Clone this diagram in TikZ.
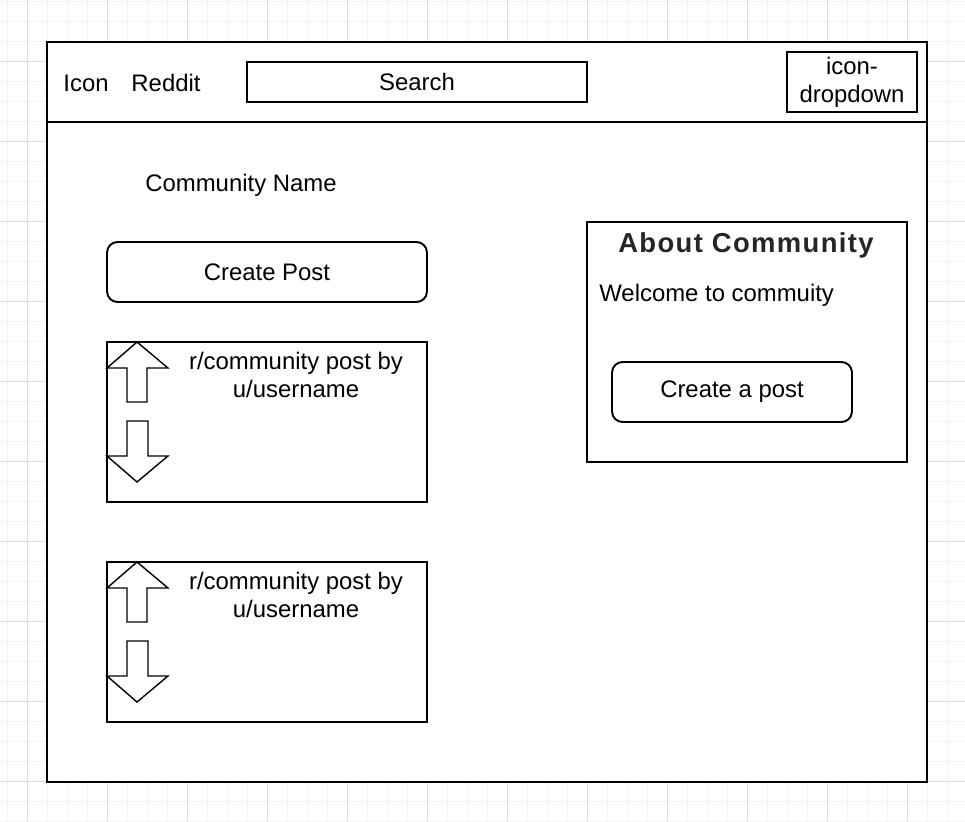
\documentclass[tikz,border=0pt]{standalone}
\usepackage{fontspec}
\setmainfont{Liberation Sans}
\usepackage{tikz}

\tikzset{
  gridfine/.style={color=black!5, line width=0.5pt},
  gridmajor/.style={color=black!13, line width=0.5pt},
  frame/.style={draw, line width=1.1pt, fill=white, inner sep=0pt},
  button/.style={frame, rounded corners=6pt},
  label/.style={inner sep=0pt, align=center},
  updown/.style={draw, line width=0.8pt, fill=white, line join=miter}
}

\begin{document}
\begin{tikzpicture}[x=0.02cm, y=-0.02cm, font=\fontsize{13.6pt}{15.9pt}\selectfont]
        \useasboundingbox (0,0) rectangle (965,822);

        % background grid
        \foreach \gx in {7,27,...,965} \draw[gridfine] (\gx,0) -- (\gx,822);
        \foreach \gy in {1,21,...,822} \draw[gridfine] (0,\gy) -- (965,\gy);
        \foreach \gx in {27,107,...,965} \draw[gridmajor] (\gx,0) -- (\gx,822);
        \foreach \gy in {61,141,...,822} \draw[gridmajor] (0,\gy) -- (965,\gy);

        % page and header
        \node[frame, minimum width=17.6cm, minimum height=14.8cm] (page) at (487,412) {};
        \coordinate (hl) at (47,122);
        \coordinate (hr) at (927,122);
        \draw[line width=1.1pt] (hl) -- (hr);

        \node[label, anchor=base] (icon) at (86,91) {Icon};
        \node[label, anchor=base] (reddit) at (166,91) {Reddit};
        \node[frame, minimum width=6.8cm, minimum height=0.8cm] (search) at (417,82) {Search};
        \node[frame, label, minimum width=2.6cm, minimum height=1.2cm] (dropdown) at (852,82) {icon-\\dropdown};

        % left column
        \node[label, anchor=base] (cname) at (241,191.5) {Community Name};
        \node[button, minimum width=6.4cm, minimum height=1.2cm] (newpost) at (267,272) {Create Post};

        \node[frame, minimum width=6.4cm, minimum height=3.2cm] (post1) at (267,422) {};
        \node[label] (post1txt) at (296,375) {r/community post by\\u/username};
        \node[frame, minimum width=6.4cm, minimum height=3.2cm] (post2) at (267,642) {};
        \node[label] (post2txt) at (296,595) {r/community post by\\u/username};

        % vote arrows
        \foreach \dy in {0,220} {
            \draw[updown] (137,342+\dy) -- (168,368+\dy) -- (147,368+\dy) -- (147,402+\dy)
                -- (127,402+\dy) -- (127,368+\dy) -- (107,368+\dy) -- cycle;
            \draw[updown] (127,421+\dy) -- (148,421+\dy) -- (148,456+\dy) -- (168,456+\dy)
                -- (137,482+\dy) -- (107,456+\dy) -- (127,456+\dy) -- cycle;
        }

        % sidebar
        \node[frame, minimum width=6.4cm, minimum height=4.8cm] (about) at (747,342) {};
        \node[label, anchor=base, font=\fontsize{15.6pt}{18pt}\selectfont\bfseries\addfontfeature{LetterSpace=5}, color=black!85] (abouttitle) at (746,252) {About Community};
        \node[label, anchor=base west] (welcome) at (599,301) {Welcome to commuity};
        \node[button, minimum width=4.8cm, minimum height=1.2cm] (sidepost) at (732,392) {Create a post};
    \end{tikzpicture}
\end{document}
